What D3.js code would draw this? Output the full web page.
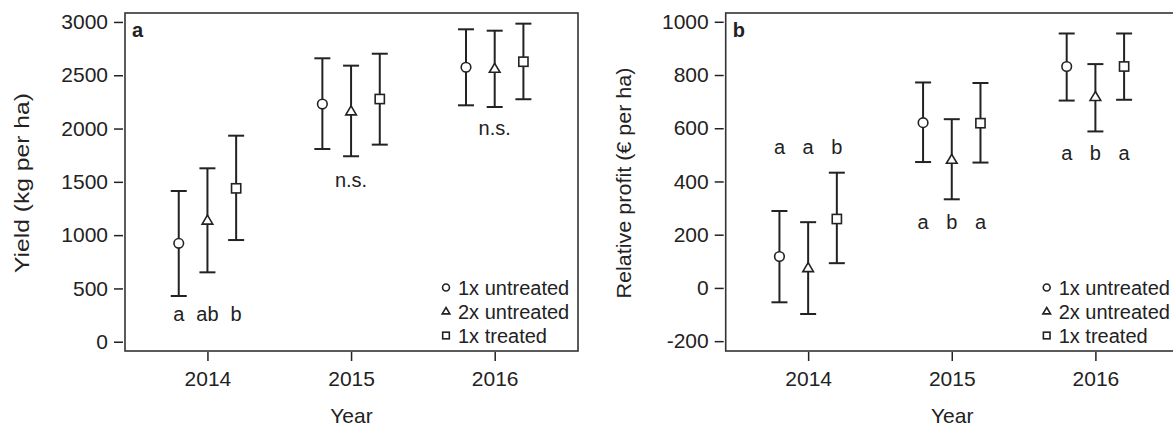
<!DOCTYPE html>
<html>
<head>
    <meta charset="utf-8">
    <title>Yield and relative profit</title>
    <style>
        body { margin: 0; background: #fff; font-family: "Liberation Sans", Arial, sans-serif; }
        svg { display: block; }
        .tick text { font-size: 21px; fill: #222; font-family: "Liberation Sans", Arial, sans-serif; }
        .lbl { font-size: 20px; fill: #222; }
        .ttl { font-size: 21px; fill: #222; }
    </style>
</head>
<body>
    <svg id="chart" width="1173" height="426"></svg>
    <script src="https://d3js.org/d3.v7.min.js"></script>
    <script>
        // Data
        const years = [2014, 2015, 2016];
        const groups = ["1x untreated", "2x untreated", "1x treated"];
        const shapes = ["circle", "triangle", "square"];

        // yield (kg per ha), rows = years, columns = groups
        const yieldMean = [[923, 1135, 1439], [2230, 2160, 2277], [2575, 2559, 2627]];
        const yieldLow  = [[429, 651, 954],   [1808, 1740, 1849], [2218, 2202, 2275]];
        const yieldHigh = [[1414, 1627, 1933], [2659, 2590, 2702], [2931, 2918, 2984]];
        const yieldLetters = [["a", "ab", "b"], ["n.s."], ["n.s."]];
        const yieldLetterAt = [258, 1517, 2005];
        const yieldTicks = [0, 500, 1000, 1500, 2000, 2500, 3000];

        // relative profit (EUR per ha)
        const profitMean = [[118, 74, 259], [621, 481, 619], [832, 717, 832]];
        const profitLow  = [[-54, -98, 93], [473, 333, 471], [704, 588, 707]];
        const profitHigh = [[289, 247, 433], [772, 634, 770], [956, 841, 956]];
        const profitLetters = [["a", "a", "b"], ["a", "b", "a"], ["a", "b", "a"]];
        const profitLetterAt = [531, 246, 506];
        const profitTicks = [-200, 0, 200, 400, 600, 800, 1000];

        const svg = d3.select("#chart");
        const ink = "#222";
        const fmt = d => String(d); // plain hyphen for negatives

        function drawPanel(p) {
            const g = svg.append("g");
            const x = d3.scaleLinear().domain([2013.426, 2016.58]).range([p.left, p.left + 453]);
            const y = d3.scaleLinear().domain(p.ydomain).range([351, 13]);
            const off = 28.7; // group spacing in px

            // box
            g.append("rect")
                .attr("x", p.left).attr("y", 13)
                .attr("width", 453).attr("height", 338)
                .attr("fill", "none").attr("stroke", "#333").attr("stroke-width", 1.6);

            // axes
            const ya = g.append("g")
                .attr("transform", `translate(${p.left - 2},0)`)
                .call(d3.axisLeft(y).tickValues(p.ticks).tickSize(9).tickPadding(6).tickFormat(fmt));
            ya.select(".domain").remove();
            ya.selectAll(".tick line").attr("stroke", ink).attr("stroke-width", 1.5);

            const xa = g.append("g")
                .attr("transform", "translate(0,352)")
                .call(d3.axisBottom(x).tickValues(years).tickSize(9).tickPadding(10).tickFormat(fmt));
            xa.select(".domain").remove();
            xa.selectAll(".tick line").attr("stroke", ink).attr("stroke-width", 1.5);

            // axis titles
            g.append("text").attr("class", "ttl")
                .attr("x", p.left + 226.5).attr("y", 423)
                .attr("text-anchor", "middle")
                .text("Year");
            g.append("text").attr("class", "ttl")
                .attr("transform", `translate(${p.ylabX},183) rotate(-90)`)
                .attr("text-anchor", "middle")
                .attr("dominant-baseline", "central")
                .attr("textLength", p.ylabLen)
                .attr("lengthAdjust", "spacingAndGlyphs")
                .text(p.ylabel);

            // panel letter
            g.append("text").attr("class", "lbl")
                .attr("x", p.left + 7).attr("y", 37)
                .attr("font-weight", "bold").attr("font-size", 18)
                .text(p.tag);

            // error bars + markers
            years.forEach((yr, i) => {
                groups.forEach((grp, j) => {
                    const cx = x(yr) + (j - 1) * off;
                    g.append("line")
                        .attr("x1", cx).attr("x2", cx)
                        .attr("y1", y(p.low[i][j])).attr("y2", y(p.high[i][j]))
                        .attr("stroke", ink).attr("stroke-width", 2);
                    [p.low[i][j], p.high[i][j]].forEach(v => {
                        g.append("line")
                            .attr("x1", cx - 8).attr("x2", cx + 8)
                            .attr("y1", y(v)).attr("y2", y(v))
                            .attr("stroke", ink).attr("stroke-width", 2);
                    });
                    marker(g, shapes[j], cx, y(p.mean[i][j]), 1);
                });

                // significance letters
                const labs = p.letters[i];
                labs.forEach((t, j) => {
                    const lx = labs.length === 1 ? x(yr) : x(yr) + (j - 1) * off;
                    g.append("text").attr("class", "lbl")
                        .attr("x", lx).attr("y", y(p.letterAt[i]))
                        .attr("text-anchor", "middle")
                        .attr("dominant-baseline", "central")
                        .text(t);
                });
            });

            // legend
            groups.forEach((grp, j) => {
                const ly = 287.5 + j * 24;
                marker(g, shapes[j], p.left + 321, ly, 0.72);
                g.append("text").attr("class", "lbl")
                    .attr("x", p.left + 333).attr("y", ly)
                    .attr("dominant-baseline", "central")
                    .text(grp);
            });
        }

        function marker(g, shape, cx, cy, s) {
            let el;
            if (shape === "circle") {
                el = g.append("circle").attr("cx", cx).attr("cy", cy).attr("r", 4.8 * s);
            } else if (shape === "square") {
                const h = 4.6 * s;
                el = g.append("rect").attr("x", cx - h).attr("y", cy - h).attr("width", 2 * h).attr("height", 2 * h);
            } else {
                const r = 5.6 * s;
                el = g.append("path")
                    .attr("d", `M${cx},${cy - r}L${cx + r * 0.95},${cy + r * 0.6}L${cx - r * 0.95},${cy + r * 0.6}Z`);
            }
            el.attr("fill", "#fff").attr("stroke", ink).attr("stroke-width", 1.6);
        }

        drawPanel({
            left: 125, tag: "a", ydomain: [-87, 3084], ticks: yieldTicks,
            mean: yieldMean, low: yieldLow, high: yieldHigh,
            letters: yieldLetters, letterAt: yieldLetterAt,
            ylabel: "Yield (kg per ha)", ylabX: 21, ylabLen: 180
        });

        drawPanel({
            left: 725.7, tag: "b", ydomain: [-237, 1033], ticks: profitTicks,
            mean: profitMean, low: profitLow, high: profitHigh,
            letters: profitLetters, letterAt: profitLetterAt,
            ylabel: "Relative profit (€ per ha)", ylabX: 623, ylabLen: 231
        });
    </script>
</body>
</html>
